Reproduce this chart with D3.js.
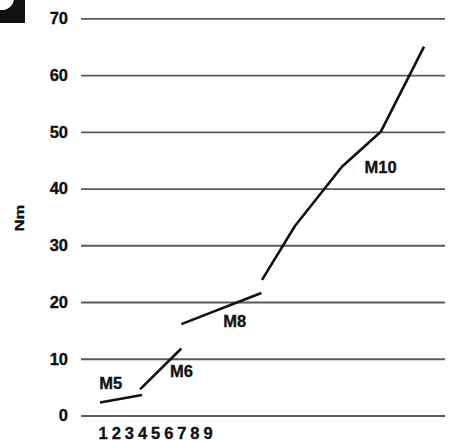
<!DOCTYPE html>
<html>
<head>
<meta charset="utf-8">
<script src="https://cdn.jsdelivr.net/npm/d3@7"></script>
<style>
  html, body { margin: 0; padding: 0; background: #fff; }
  svg { display: block; }
  text { font-family: "Liberation Sans", Arial, sans-serif; font-weight: bold; fill: #111; stroke: #111; stroke-width: 0.35px; }
</style>
</head>
<body>
<svg id="chart" width="454" height="442"></svg>
<script>
// ---- data ----
const yTicks = [0, 10, 20, 30, 40, 50, 60, 70];
const xTicks = [1, 2, 3, 4, 5, 6, 7, 8, 9];
const seriesNames = ["M5", "M6", "M8", "M10"];
const m5 = [[0.8, 2.3], [4.0, 3.6]];
const m6 = [[3.85, 4.6], [7.0, 11.8]];
const m8 = [[7.0, 16.1], [13.1, 21.6]];
const m10 = [[13.15, 23.9], [15.66, 33.4], [19.24, 43.85], [22.2, 50.0], [25.5, 65.0]];
// label anchor points (data coordinates)
const labelPos = [[0.75, 4.7], [6.13, 6.85], [10.2, 15.55], [20.97, 42.7]];
const yTitle = "Nm";

// ---- layout ----
const svg = d3.select("#chart");
const x = d3.scaleLinear().domain([-0.65, 27.1]).range([81, 445]);
const y = d3.scaleLinear().domain([0, 70]).range([415.5, 18.3]);

// corner badge
svg.append("rect").attr("x", 0).attr("y", 0).attr("width", 25).attr("height", 23).attr("fill", "#111");
svg.append("path").attr("d", "M0,0 H14 Q12,8 4,10 L0,10 Z").attr("fill", "#fff");

// y axis with gridlines
const yAxis = d3.axisLeft(y).tickValues(yTicks).tickSizeInner(-(x.range()[1] - x.range()[0])).tickSizeOuter(0).tickPadding(13);
const gy = svg.append("g").attr("transform", `translate(${x.range()[0]},0)`).call(yAxis);
gy.select(".domain").remove();
gy.selectAll(".tick line").attr("stroke", "#5a5a5a").attr("stroke-width", 1.8);
gy.selectAll(".tick text").attr("font-size", 16.5).attr("fill", "#111");

// x axis digits
const xAxis = d3.axisBottom(x).tickValues(xTicks).tickSize(0).tickPadding(12).tickFormat(d3.format("d"));
const gx = svg.append("g").attr("transform", `translate(0,${y(0)})`).call(xAxis);
gx.select(".domain").remove();
gx.selectAll(".tick text").attr("font-size", 16.5).attr("fill", "#111");

// y title
svg.append("text")
  .attr("transform", "translate(23.5,218) rotate(-90)")
  .attr("text-anchor", "middle")
  .attr("font-size", 13)
  .attr("textLength", 27)
  .attr("lengthAdjust", "spacingAndGlyphs")
  .text(yTitle);

// lines
const line = d3.line().x(d => x(d[0])).y(d => y(d[1]));
[m5, m6, m8, m10].forEach(s => {
  svg.append("path").datum(s).attr("d", line)
    .attr("fill", "none").attr("stroke", "#111").attr("stroke-width", 2.6)
    .attr("stroke-linecap", "butt").attr("stroke-linejoin", "round");
});

// labels
seriesNames.forEach((n, i) => {
  svg.append("text")
    .attr("x", x(labelPos[i][0])).attr("y", y(labelPos[i][1]))
    .attr("font-size", 16.5).text(n);
});
</script>
</body>
</html>
